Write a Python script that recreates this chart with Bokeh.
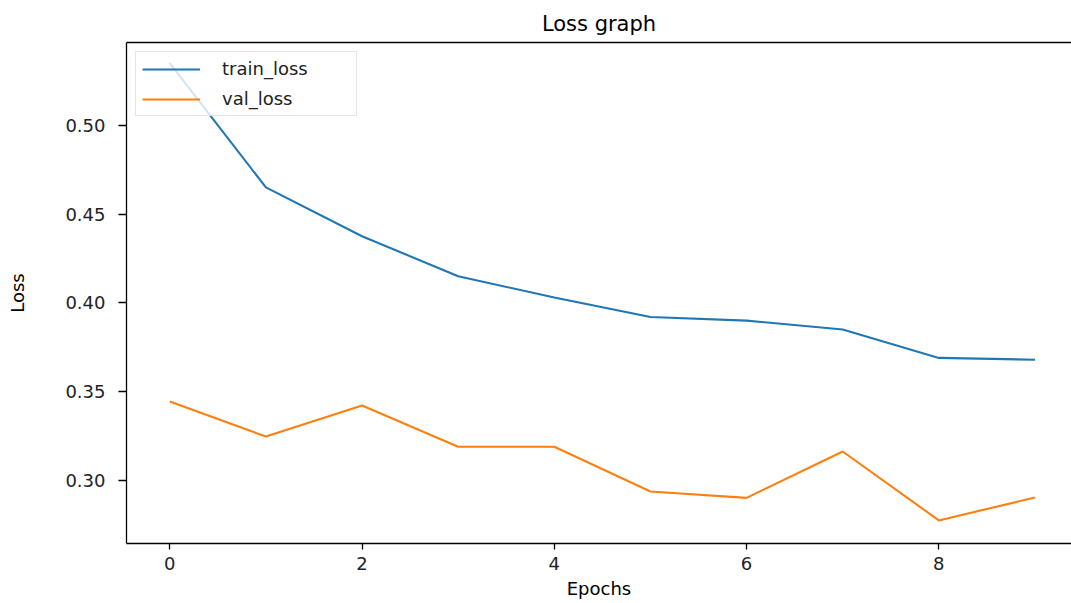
from bokeh.plotting import figure
from bokeh.models import Range1d, LinearAxis, Legend, LegendItem, FixedTicker, CustomJSTickFormatter
from bokeh.embed import file_html
from bokeh.resources import INLINE

epochs = [0, 1, 2, 3, 4, 5, 6, 7, 8, 9]
train_loss = [0.535, 0.465, 0.4375, 0.415, 0.403, 0.392, 0.390, 0.385, 0.369, 0.368]
val_loss = [0.3444, 0.3247, 0.3422, 0.319, 0.319, 0.2938, 0.2902, 0.3163, 0.2775, 0.2904]
x_ticks = [0, 2, 4, 6, 8]
y_ticks = [0.30, 0.35, 0.40, 0.45, 0.50]

FONT = "DejaVu Sans"

p = figure(width=1071, height=603, output_backend="svg", toolbar_location=None,
           x_range=Range1d(-0.45, 9.38), y_range=Range1d(0.2645, 0.5466),
           min_border_left=126, min_border_right=0, min_border_top=42, min_border_bottom=60,
           x_axis_label="Epochs", y_axis_label="Loss", title="Loss graph")

p.outline_line_color = None
p.grid.visible = False
p.background_fill_color = "white"
p.border_fill_color = "white"

p.title.align = "center"
p.title.text_font = FONT
p.title.text_font_style = "normal"
p.title.text_font_size = "21px"
p.title.text_color = "black"
p.title.standoff = 14

bottom = p.below[0]
left = p.left[0]

for ax in (bottom, left):
    ax.axis_line_color = "black"
    ax.axis_line_width = 1.3
    ax.major_tick_line_color = "black"
    ax.major_tick_line_width = 1.3
    ax.minor_tick_line_color = None
    ax.major_tick_in = 0
    ax.major_label_text_font = FONT
    ax.major_label_text_font_size = "18px"
    ax.major_label_text_color = "#222222"
    ax.axis_label_text_font = FONT
    ax.axis_label_text_font_size = "18px"
    ax.axis_label_text_font_style = "normal"
    ax.axis_label_text_color = "black"

bottom.ticker = FixedTicker(ticks=x_ticks)
left.ticker = FixedTicker(ticks=y_ticks)
left.formatter = CustomJSTickFormatter(code="return tick.toFixed(2);")
bottom.major_tick_out = 6
left.major_tick_out = 8
bottom.major_label_standoff = 7
left.major_label_standoff = 13
bottom.axis_label_standoff = 5
left.axis_label_standoff = 34

top = LinearAxis(major_tick_line_color=None, minor_tick_line_color=None,
                 major_tick_out=0, major_tick_in=0, minor_tick_out=0,
                 major_label_text_font_size="0px", axis_line_color="black",
                 axis_line_width=1.3, major_label_standoff=0,
                 ticker=FixedTicker(ticks=[]))
p.add_layout(top, "above")

r1 = p.line(epochs, train_loss, line_color="#1f77b4", line_width=2.1)
r2 = p.line(epochs, val_loss, line_color="#ff7f0e", line_width=2.1)

legend = Legend(items=[LegendItem(label="train_loss", renderers=[r1]),
                       LegendItem(label="val_loss", renderers=[r2])],
                location="top_left", margin=9, padding=6, spacing=9,
                glyph_width=58, glyph_height=20, label_standoff=22, label_width=128,
                label_text_font=FONT, label_text_font_size="18px", label_text_color="#222222",
                border_line_color="#cccccc", border_line_width=1.3,
                background_fill_alpha=0.8)
p.add_layout(legend, "center")

open("out.html", "w").write(file_html(p, INLINE))
